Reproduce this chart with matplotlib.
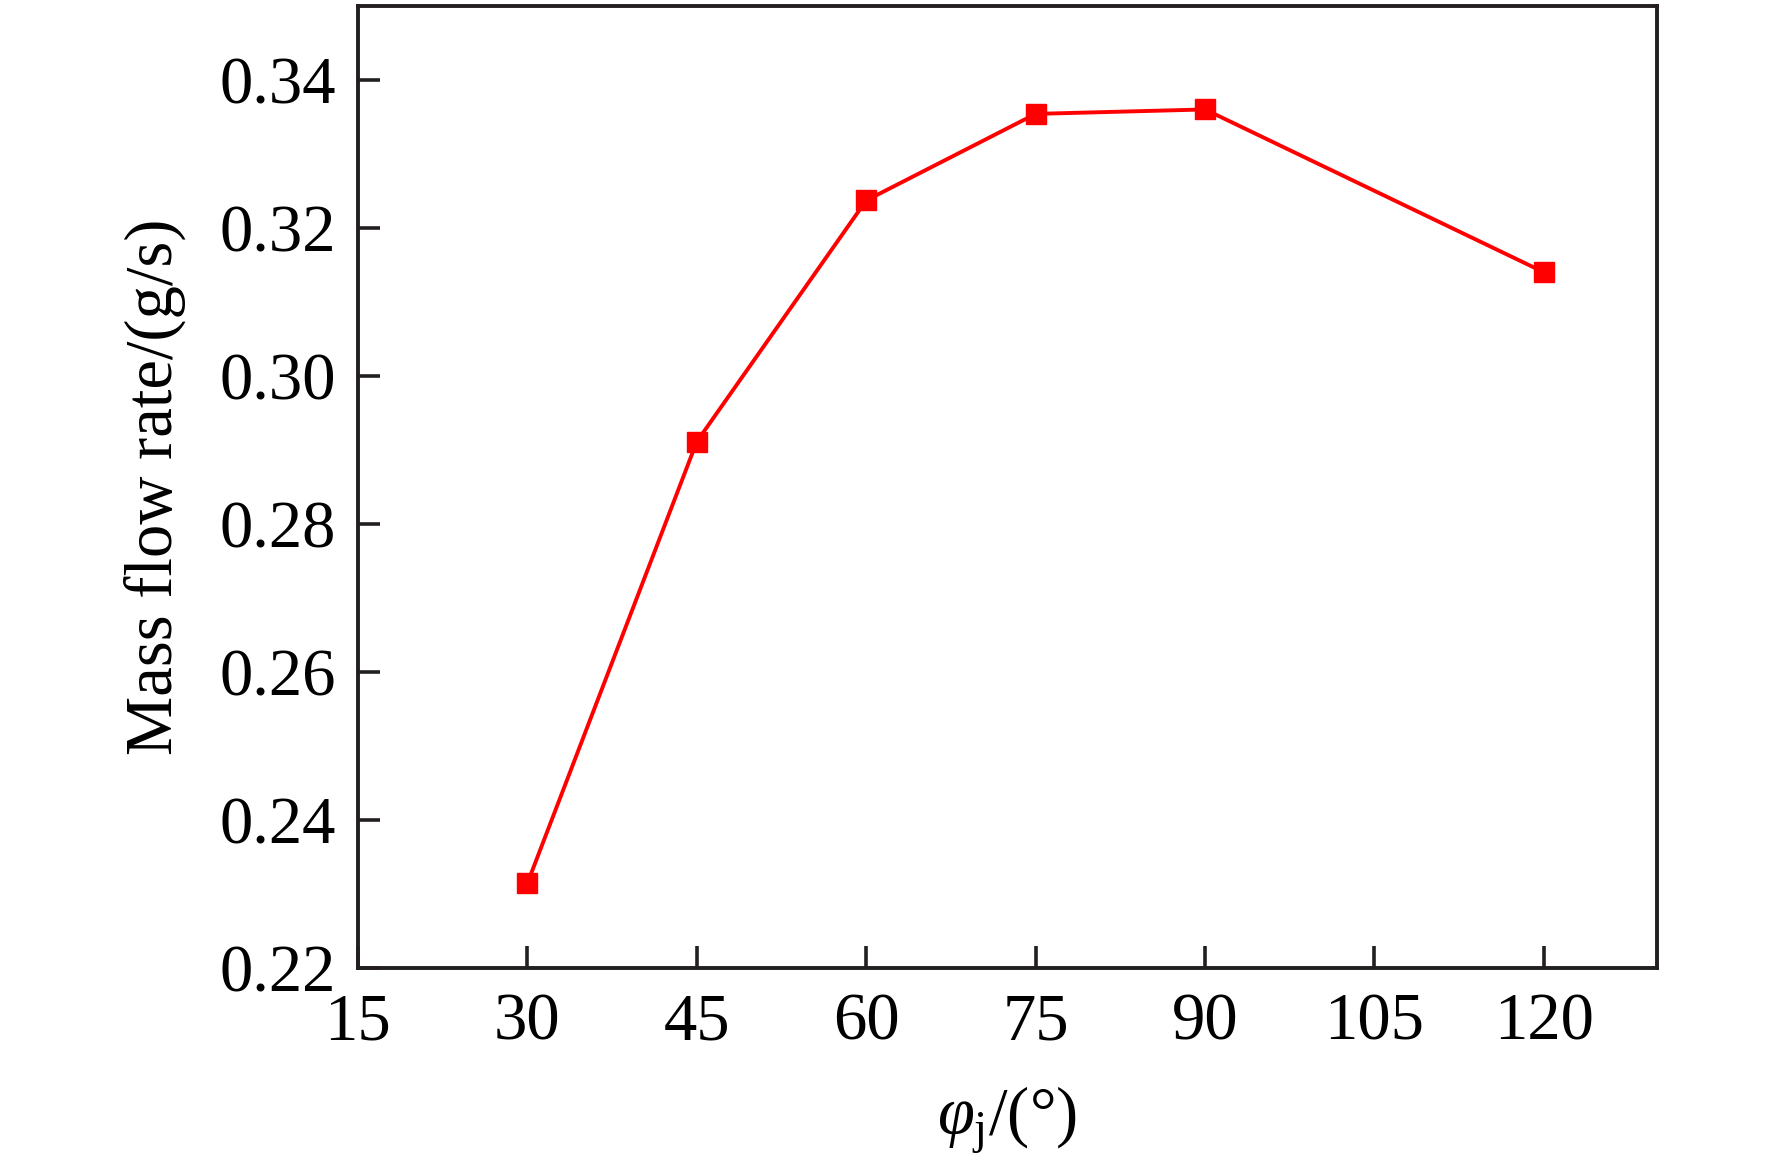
import numpy as np
import matplotlib
matplotlib.use('Agg')
import matplotlib.pyplot as plt

# angle (deg) vs mass flow rate (g/s)
phi_j = [30, 45, 60, 75, 90, 120]
mass_flow = [0.2314, 0.2911, 0.3237, 0.3354, 0.3360, 0.3140]
x_ticks = [15, 30, 45, 60, 75, 90, 105, 120]
y_ticks = [0.22, 0.24, 0.26, 0.28, 0.30, 0.32, 0.34]

plt.rcParams['font.family'] = ['Liberation Serif', 'DejaVu Serif']
plt.rcParams['mathtext.fontset'] = 'custom'
plt.rcParams['mathtext.rm'] = 'Liberation Serif'
plt.rcParams['mathtext.it'] = 'Liberation Serif:italic'

edge = '#231f20'

fig = plt.figure(figsize=(17.72, 11.73), dpi=100)
ax = fig.add_axes([0.202, 0.175, 0.733, 0.820])

ax.plot(phi_j, mass_flow, color='#ff0000', lw=2.8, marker='s', ms=14,
        markeredgecolor='#ff0000')

ax.set_xlim(15, 130)
ax.set_ylim(0.22, 0.35)
ax.set_xticks(x_ticks)
ax.set_yticks(y_ticks)
ax.set_yticklabels(['%.2f' % v for v in y_ticks])

for s in ax.spines.values():
    s.set_linewidth(2.8)
    s.set_color(edge)

ax.tick_params(direction='in', length=16, width=2.6, color=edge,
               labelsize=48, top=False, right=False)
ax.tick_params(axis='x', pad=18)
ax.tick_params(axis='y', pad=16)

ax.set_xlabel(r'$\varphi_{\mathrm{j}}$/(°)', fontsize=48, labelpad=22)
ax.set_ylabel('Mass flow rate/(g/s)', fontsize=48, labelpad=24)

fig.savefig('out.png', dpi=100)
